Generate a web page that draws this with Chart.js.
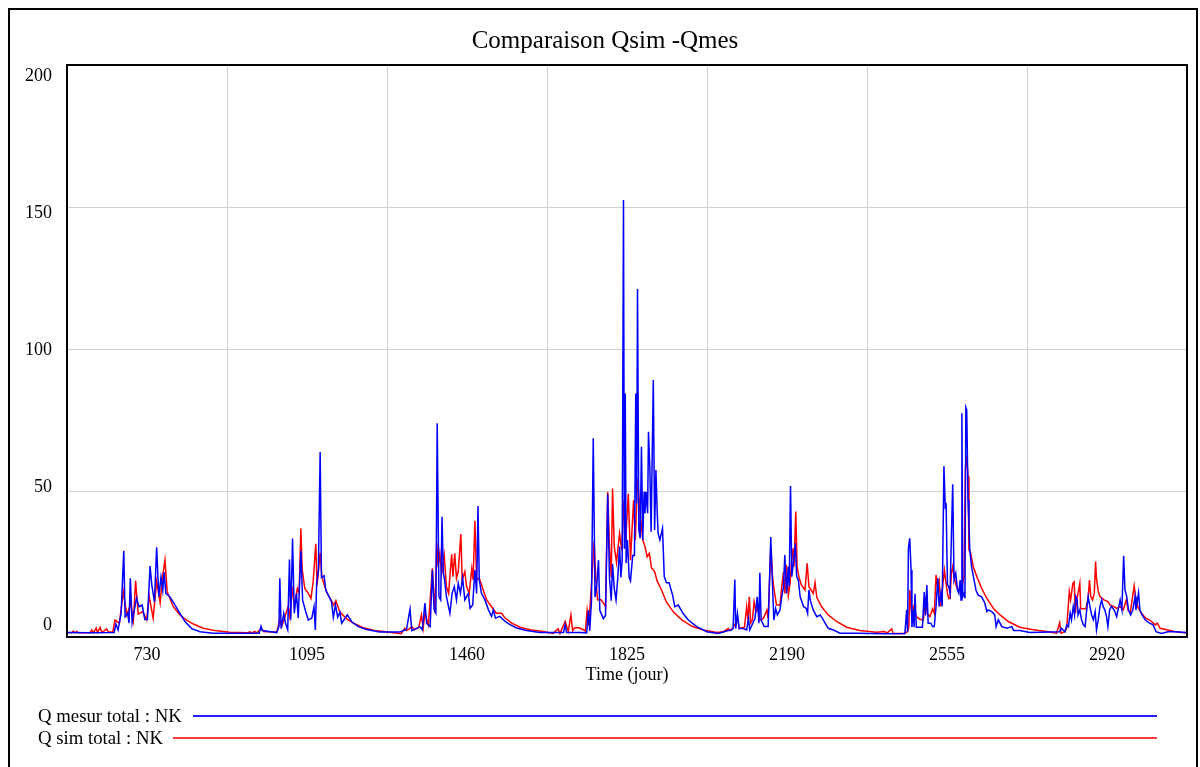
<!DOCTYPE html>
<html><head><meta charset="utf-8">
<script src="https://cdn.jsdelivr.net/npm/chart.js@4.4.1/dist/chart.umd.min.js"></script>
<style>
html,body{margin:0;padding:0;background:#fff;}
#wrap{position:relative;width:1200px;height:767px;overflow:hidden;background:#fff;}
canvas{position:absolute;left:0;top:0;}
.lg{position:absolute;font-family:"Liberation Serif","Times New Roman",serif;font-size:18.75px;line-height:22px;color:#000;white-space:nowrap;}
.ttl{position:absolute;left:405px;width:400px;top:25px;text-align:center;font-family:"Liberation Serif","Times New Roman",serif;font-size:25px;line-height:30px;color:#000;white-space:nowrap;}
.ln{position:absolute;}
</style></head><body>
<div id="wrap"><canvas id="c" width="1200" height="767"></canvas>
<div class="ttl">Comparaison Qsim -Qmes</div>
<div class="lg" style="left:38px;top:705px">Q mesur total : NK</div>
<div class="ln" style="left:193px;top:715px;width:964px;height:2px;background:#2020ff"></div>
<div class="lg" style="left:38px;top:727px">Q sim total : NK</div>
<div class="ln" style="left:173px;top:737px;width:984px;height:2px;background:#ff3a3a"></div>
</div>
<script>
// ---- data (day, flow) ----
const mesDays=[548,600,655,659,664,671,677,680,686,689,692,696,706,712,719,725,731,737,741,747,752,757,762,766,769,773,782,794,805,817,832,851,881,950,
986,990,993,1026,1031,1033,1036,1042,1046,1051,1055,1058,1062,1066,1071,1075,1081,1085,1092,1098,1106,1111,1114,1117,1121,1125,1128,1134,1138,1144,1151,1155,1160,1165,1170,1174,1187,1197,1212,1231,1261,1307,1322,1330,1334,1353,
1358,1364,1368,1376,1381,1385,1389,1392,1396,1400,1403,1406,1409,1413,1421,1426,1431,1436,1440,1445,1450,1455,1463,1467,1473,1478,1482,1485,1488,1493,1501,1509,1516,1520,1525,1535,1547,1558,1573,1596,1626,1680,1684,1687,1718,
1733,1737,1740,1744,1748,1752,1756,1760,1763,1771,1776,1781,1785,1789,1792,1796,1800,1804,1808,1811,1814,1817,1819,1821,1823,1826,1830,1833,1838,1842,1845,1847,1849,1852,1855,1858,1861,1864,1866,1869,1872,1874,1877,1880,1885,1888,1891,1894,1896,1900,1906,1910,1915,1921,1929,1934,1942,1953,1965,1984,2007,2033,
2056,2063,2067,2071,2073,2077,2081,2090,2098,2102,2105,2112,2117,2122,2126,2128,2131,2138,2147,2153,2157,2160,2164,2168,2174,2178,2182,2185,2189,2193,2195,2198,2201,2206,2209,2212,2216,2220,2228,2234,2237,2240,2243,2250,2258,2266,2273,2284,2296,2311,2349,2417,
2459,2463,2465,2467,2470,2473,2475,2478,2480,2482,2485,2499,2503,2506,2509,2512,2518,2522,2526,2530,2534,2537,2541,2544,2548,2551,2553,2556,2559,2562,2565,2568,2571,2575,2579,2582,2585,2587,2589,2591,2594,2596,2598,2600,2603,2605,2607,2611,2616,2621,2626,2634,2641,2646,2649,2657,2664,2667,2672,2680,2692,2703,2707,2721,2744,2767,
2812,2816,2824,2828,2832,2836,2839,2843,2846,2849,2852,2854,2858,2862,2866,2870,2874,2877,2881,2885,2889,2893,2896,2900,2904,2908,2911,2915,2919,2922,2926,2930,2934,2938,2942,2946,2950,2954,2958,2961,2965,2969,2974,2979,2984,2986,2992,2995,3000,3007,3017,3025,3032,3044,3059,3074,3103];
const mesVals=[0.5,0.4,0.5,3.5,1.4,7.3,29.3,6.1,7.3,3.8,19.6,4.0,12.6,9.6,10.2,5.1,5.1,23.9,17.2,11.3,30.5,13.1,20.1,15.4,21.8,14.3,13.1,10.2,7.3,4.3,1.9,0.8,0.3,0.3,
0.3,2.7,1.2,0.5,2.6,19.6,1.9,7.3,3.8,1.5,26.2,5.0,33.6,7.3,14.3,5.6,29.3,11.9,7.9,4.9,5.6,9.6,1.4,17.8,22.5,64.1,19.9,20.5,15.4,13.6,11.3,5.9,10.2,5.9,7.7,3.8,6.7,4.3,2.6,1.6,0.7,0.7,1.6,8.7,1.2,2.5,
1.5,10.9,3.7,2.6,22.5,8.5,7.3,74.2,13.2,12.0,41.3,21.4,19.0,13.2,7.3,14.3,16.7,12.0,17.9,14.3,19.7,12.0,14.3,9.0,10.2,22.5,14.3,45.1,19.0,14.3,12.0,8.5,6.2,8.5,5.6,6.2,4.4,3.3,2.1,1.2,0.5,0.5,3.2,0.5,0.5,
0.4,8.3,1.2,11.8,68.9,13.0,17.0,26.0,8.3,5.4,6.5,49.2,19.9,11.7,24.6,16.0,12.0,19.9,30.8,19.9,26.0,152.8,30.0,84.7,25.0,33.1,19.9,18.7,27.6,27.6,84.7,46.0,121.5,36.6,33.7,65.9,33.1,50.1,42.5,50.0,42.5,71.2,59.0,36.0,89.4,36.6,57.7,42.5,35.4,33.1,37.2,20.2,18.0,18.0,13.7,9.6,10.2,7.2,4.9,2.6,0.8,0.2,
1.2,1.4,1.9,19.2,1.9,7.3,1.9,1.9,1.4,5.5,1.4,3.8,5.5,13.1,3.8,21.6,4.9,2.6,2.6,34.1,16.7,4.9,9.0,6.7,8.4,13.1,16.7,27.8,14.3,23.7,16.7,52.1,20.2,27.2,31.9,20.2,18.9,13.1,9.6,9.0,7.3,15.5,11.9,8.4,6.1,6.7,4.9,2.0,1.4,0.3,0.3,0.1,
0.2,8.5,0.8,30.2,33.7,22.5,2.4,8.5,2.4,14.2,2.4,2.4,14.8,6.5,17.2,3.8,3.8,2.6,2.6,9.7,19.6,9.7,14.3,9.7,59.1,44.8,45.4,17.4,16.7,14.3,34.3,52.7,19.0,21.4,15.5,14.3,19.0,12.0,77.7,13.2,14.3,12.6,79.8,78.9,47.2,39.0,29.6,23.7,19.6,15.5,13.7,13.1,11.0,7.9,8.5,7.9,6.7,2.6,5.0,2.6,2.0,2.6,1.2,1.2,0.5,0.6,
0.8,2.0,0.8,3.2,2.6,7.4,5.0,9.7,6.7,13.2,11.9,6.7,8.5,5.0,3.2,2.6,8.9,13.2,9.7,6.7,5.0,7.9,1.4,5.0,9.7,12.0,9.7,8.5,6.1,2.6,8.5,9.7,9.0,7.9,6.1,9.0,12.0,8.5,27.5,15.5,13.2,8.5,6.7,8.5,13.2,8.5,14.6,8.5,6.7,5.0,3.8,3.2,0.8,0.2,0.8,0.8,0.5];

const simDays=[548,558,562,565,570,573,600,604,608,614,617,623,627,638,642,652,657,667,676,684,693,699,704,710,720,729,735,744,752,760,765,771,776,790,805,820,836,858,889,919,960,
965,968,976,980,991,996,1026,1033,1037,1052,1056,1061,1066,1073,1077,1081,1084,1090,1098,1104,1109,1115,1118,1125,1129,1140,1151,1156,1161,1170,1185,1200,1223,1254,1292,1310,1318,1322,1330,1334,1340,1350,
1356,1360,1364,1372,1381,1387,1391,1394,1398,1402,1408,1413,1418,1425,1428,1432,1436,1440,1446,1449,1455,1459,1465,1471,1474,1478,1482,1488,1497,1505,1516,1527,1539,1547,1562,1581,1604,1634,1656,1668,1672,1684,1691,1697,1701,1706,1716,1725,
1730,1734,1738,1746,1750,1754,1758,1765,1772,1776,1781,1785,1789,1792,1796,1801,1808,1813,1818,1822,1828,1833,1840,1844,1849,1855,1861,1866,1871,1876,1881,1888,1894,1904,1915,1931,1950,1973,1999,2030,
2045,2056,2060,2068,2077,2081,2093,2098,2101,2104,2107,2111,2115,2119,2123,2128,2136,2144,2147,2153,2157,2160,2166,2174,2178,2182,2185,2189,2193,2197,2200,2204,2206,2210,2213,2217,2223,2231,2236,2240,2245,2250,2254,2258,2269,2284,2303,2326,2356,2394,2413,2418,
2429,2432,2457,2465,2468,2470,2474,2478,2485,2493,2501,2506,2510,2516,2522,2526,2530,2533,2537,2541,2545,2549,2552,2556,2559,2562,2565,2568,2571,2576,2580,2585,2589,2594,2597,2600,2603,2605,2609,2615,2623,2634,2646,2661,2676,2695,2721,2752,2782,2805,
2812,2815,2824,2828,2834,2837,2842,2845,2848,2851,2854,2858,2860,2866,2872,2877,2880,2883,2887,2891,2894,2896,2900,2904,2913,2922,2927,2936,2942,2950,2957,2964,2968,2973,2982,2986,2990,2998,3008,3017,3030,3035,3041,3059,3074,3090,3103];
const simVals=[0.5,0.4,1.0,0.4,0.9,0.4,0.4,1.4,0.4,2.1,0.5,2.3,0.5,1.8,0.6,0.8,4.9,3.8,14.9,6.7,10.8,4.9,18.7,7.0,7.9,5.0,13.2,5.6,18.6,11.0,19.6,26.0,14.9,9.6,6.7,4.9,3.5,2.0,1.1,0.6,0.4,
0.8,0.3,0.9,0.3,2.0,0.9,0.6,5.0,2.5,9.6,5.9,16.6,9.6,16.0,14.3,37.1,22.8,16.0,14.3,12.5,18.3,31.8,17.1,28.6,19.9,14.6,11.7,10.2,11.7,7.7,5.4,3.9,2.2,1.1,0.4,0.1,2.0,1.2,2.0,2.6,1.5,2.4,
6.7,2.0,7.3,3.2,23.1,7.3,32.5,23.7,28.4,21.4,27.8,16.7,14.3,28.1,20.2,28.4,19.6,22.0,35.2,19.0,22.0,16.7,14.3,23.1,19.0,39.9,19.0,19.7,15.5,12.0,9.6,7.3,7.3,5.6,3.8,2.4,1.5,0.9,0.2,1.8,0.2,4.4,0.9,6.7,1.2,2.2,2.2,1.5,
1.0,8.3,3.0,22.5,32.5,19.0,12.0,12.1,10.8,9.6,50.0,30.8,19.9,51.2,30.8,25.2,35.4,29.4,47.1,33.1,49.4,26.0,47.1,33.1,55.0,42.5,33.1,30.8,27.2,28.4,23.2,22.0,18.6,15.4,11.2,7.7,5.0,2.7,1.4,0.5,
0.8,1.9,1.2,2.4,5.2,1.9,2.4,9.6,4.9,13.1,3.8,4.9,11.3,7.8,9.6,4.9,5.5,8.4,5.5,30.7,20.2,16.2,10.2,10.2,16.7,21.9,14.3,24.3,13.6,17.8,24.9,30.2,23.7,43.1,23.7,20.2,17.2,15.5,24.9,16.7,15.5,14.3,18.1,12.9,9.6,6.7,4.4,2.4,1.2,0.6,0.9,0.3,
1.8,0.2,0.2,0.8,2.6,15.5,7.3,9.7,6.1,5.2,4.9,13.1,7.3,6.1,8.8,7.3,20.8,17.2,19.0,9.7,16.7,22.5,19.0,14.3,12.5,12.5,21.4,23.7,20.2,17.0,15.5,16.1,16.7,20.2,58.4,62.5,55.5,29.6,28.4,23.7,20.2,16.1,12.5,9.0,6.7,4.4,2.4,1.5,0.9,0.3,
4.0,0.3,0.8,2.0,14.9,12.0,17.8,18.4,7.4,12.0,14.3,17.8,8.9,8.9,8.9,12.6,19.0,13.2,12.0,14.3,25.5,19.6,15.0,13.2,12.0,11.4,10.2,9.6,9.0,9.6,8.5,12.0,8.5,7.4,16.9,12.0,9.6,7.4,5.6,5.0,3.2,3.8,2.0,1.4,0.9,0.5,0.3];

const xTickLabels=[730,1095,1460,1825,2190,2555,2920];
const yTickLabels=[0,50,100,150,200];
const xRange=[547.5,3102.5];
const yRange=[-1.06,200.35];
// the reference spaces its value labels slightly tighter than its grid lines
const yLabelRange=[-4.37,204.0];

const toPts=(d,v)=>d.map((x,i)=>({x:x,y:v[i]}));

const framePlugin={id:'frame',afterDraw(chart){
  const c=chart.ctx,a=chart.chartArea;
  c.save();c.strokeStyle='#000';c.lineWidth=2;
  c.strokeRect(a.left,a.top,a.right-a.left,a.bottom-a.top);
  c.strokeRect(9,9,1188,800);
  c.restore();
}};

Chart.defaults.font.family='"Liberation Serif","Times New Roman",serif';
Chart.defaults.color='#000';

new Chart(document.getElementById('c'),{
  type:'line',
  data:{datasets:[
    {label:'Q mesur total : NK',data:toPts(mesDays,mesVals),borderColor:'#0000ff',borderWidth:1.5,pointRadius:0,tension:0,order:0},
    {label:'Q sim total : NK',data:toPts(simDays,simVals),borderColor:'#ff0000',borderWidth:1.5,pointRadius:0,tension:0,order:1}
  ]},
  options:{
    responsive:false,animation:false,devicePixelRatio:1,
    layout:{padding:{left:0,right:13,top:65,bottom:80}},
    plugins:{legend:{display:false},tooltip:{enabled:false},title:{display:false}},
    scales:{
      x:{type:'linear',min:xRange[0],max:xRange[1],
        afterBuildTicks:s=>{s.ticks=xTickLabels.map(v=>({value:v}));},
        ticks:{font:{size:18},padding:7,maxRotation:0,autoSkip:false,callback:v=>String(v)},
        grid:{offset:true,color:'#d0d0d0',lineWidth:1,drawTicks:false},
        border:{display:false},
        title:{display:true,text:'Time (jour)',color:'#000',font:{size:18},padding:{top:0,bottom:1}},
        afterFit:s=>{s.height=50;}
      },
      y:{type:'linear',position:'left',min:yRange[0],max:yRange[1],
        afterBuildTicks:s=>{s.ticks=yTickLabels.map(v=>({value:v}));},
        ticks:{display:false},
        grid:{color:c=>(c.tick&&(c.tick.value===0||c.tick.value===200))?'rgba(0,0,0,0)':'#d0d0d0',lineWidth:1,drawTicks:false},
        border:{display:false},
        afterFit:s=>{s.width=0;}
      },
      yLabels:{type:'linear',position:'left',min:yLabelRange[0],max:yLabelRange[1],
        afterBuildTicks:s=>{s.ticks=yTickLabels.map(v=>({value:v}));},
        ticks:{font:{size:18},padding:15,callback:v=>String(v)},
        grid:{display:false,drawTicks:false},
        border:{display:false},
        afterFit:s=>{s.width=67;}
      }
    }
  },
  plugins:[framePlugin]
});
</script>
</body></html>
